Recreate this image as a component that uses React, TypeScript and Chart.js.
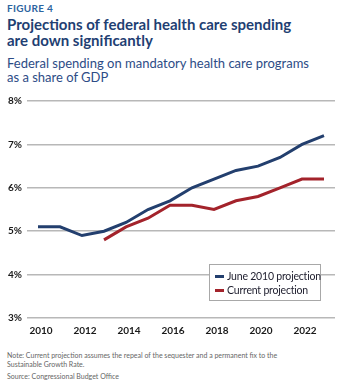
import React, { useEffect, useRef } from "react";
import { Chart, registerables } from "chart.js";

Chart.register(...registerables);

const years = ["2010", "2011", "2012", "2013", "2014", "2015", "2016", "2017", "2018", "2019", "2020", "2021", "2022", "2023"];
const june2010Projection = [5.1, 5.1, 4.9, 5.0, 5.2, 5.5, 5.7, 6.0, 6.2, 6.4, 6.5, 6.7, 7.0, 7.2];
const currentProjection = [null, null, null, 4.8, 5.1, 5.3, 5.6, 5.6, 5.5, 5.7, 5.8, 6.0, 6.2, 6.2];
const yMin = 3;
const yMax = 8;
const yStep = 1;

const seriesNames = ["June 2010 projection", "Current projection"];
const seriesColors = ["#233f6e", "#a3232b"];

const FONT = "Lato, 'Open Sans', sans-serif";

export default function App() {
  const canvasRef = useRef<HTMLCanvasElement | null>(null);

  useEffect(() => {
    if (!canvasRef.current) return;
    const chart = new Chart(canvasRef.current, {
      type: "line",
      data: {
        labels: years,
        datasets: [
          {
            label: seriesNames[0],
            data: june2010Projection,
            borderColor: seriesColors[0],
            backgroundColor: seriesColors[0],
            borderWidth: 3,
            pointRadius: 0,
            tension: 0,
          },
          {
            label: seriesNames[1],
            data: currentProjection,
            borderColor: seriesColors[1],
            backgroundColor: seriesColors[1],
            borderWidth: 3,
            pointRadius: 0,
            tension: 0,
            spanGaps: false,
          },
        ],
      },
      options: {
        animation: false,
        responsive: true,
        maintainAspectRatio: false,
        layout: { padding: { top: 11, right: 10, left: 0, bottom: 0 } },
        plugins: {
          legend: { display: false },
          tooltip: { enabled: false },
        },
        scales: {
          x: {
            type: "category",
            offset: true,
            grid: { display: false, drawTicks: false },
            border: { display: false },
            ticks: {
              autoSkip: false,
              maxRotation: 0,
              padding: 7,
              labelOffset: 3,
              color: "#1a1a1a",
              font: { family: FONT, size: 10, weight: "bold" },
              callback: (_v: any, i: number) => (i % 2 === 0 ? years[i] : ""),
            },
            afterFit: (scale: any) => {
              scale.height = 27;
            },
          },
          y: {
            min: yMin,
            max: yMax,
            grid: { color: "#b8b8b8", lineWidth: 1.5, drawTicks: false },
            border: { display: false },
            ticks: {
              stepSize: yStep,
              padding: 5,
              color: "#1a1a1a",
              font: { family: FONT, size: 10, weight: "bold" },
              callback: (v: any) => `${v}%`,
            },
            afterFit: (scale: any) => {
              scale.width = 27;
            },
          },
        },
      },
    });
    return () => chart.destroy();
  }, []);

  return (
    <div
      style={{
        position: "absolute",
        left: 0,
        top: 0,
        width: 345,
        height: 385,
        background: "#ffffff",
        fontFamily: FONT,
        overflow: "hidden",
      }}
    >
      <div
        style={{
          position: "absolute",
          left: 7,
          top: 2,
          fontSize: 10,
          lineHeight: "12px",
          fontWeight: 700,
          color: "#2c64a0",
          letterSpacing: 0.3,
        }}
      >
        FIGURE 4
      </div>
      <div
        style={{
          position: "absolute",
          left: 7,
          top: 16,
          fontSize: 15,
          lineHeight: "16px",
          fontWeight: 700,
          color: "#1f3f73",
          whiteSpace: "nowrap",
        }}
      >
        Projections of federal health care spending
        <br />
        are down significantly
      </div>
      <div
        style={{
          position: "absolute",
          left: 7,
          top: 56,
          fontSize: 13,
          lineHeight: "14px",
          color: "#2d4c86",
          whiteSpace: "nowrap",
        }}
      >
        Federal spending on mandatory health care programs
        <br />
        as a share of GDP
      </div>

      <div style={{ position: "absolute", left: 0, top: 90, width: 345, height: 255 }}>
        <canvas ref={canvasRef} />
      </div>

      <div
        style={{
          position: "absolute",
          left: 209,
          top: 264,
          width: 112,
          height: 37,
          boxSizing: "border-box",
          border: "1px solid #a8a8a8",
          background: "#ffffff",
        }}
      >
        {seriesNames.map((name, i) => (
          <div
            key={name}
            style={{
              position: "absolute",
              left: 5,
              top: 4 + i * 14,
              height: 14,
              display: "flex",
              alignItems: "center",
              whiteSpace: "nowrap",
            }}
          >
            <span
              style={{
                display: "inline-block",
                width: 9,
                height: 3,
                background: seriesColors[i],
                marginRight: 3,
              }}
            />
            <span style={{ fontSize: 10.5, color: "#1c1c2c", letterSpacing: -0.2 }}>{name}</span>
          </div>
        ))}
      </div>

      <div
        style={{
          position: "absolute",
          left: 7,
          top: 351,
          fontSize: 7,
          lineHeight: "9px",
          color: "#666666",
          whiteSpace: "nowrap",
        }}
      >
        Note: Current projection assumes the repeal of the sequester and a permanent fix to the
        <br />
        Sustainable Growth Rate.
      </div>
      <div
        style={{
          position: "absolute",
          left: 7,
          top: 372,
          fontSize: 7,
          lineHeight: "9px",
          color: "#666666",
          whiteSpace: "nowrap",
        }}
      >
        Source: Congressional Budget Office
      </div>
    </div>
  );
}
